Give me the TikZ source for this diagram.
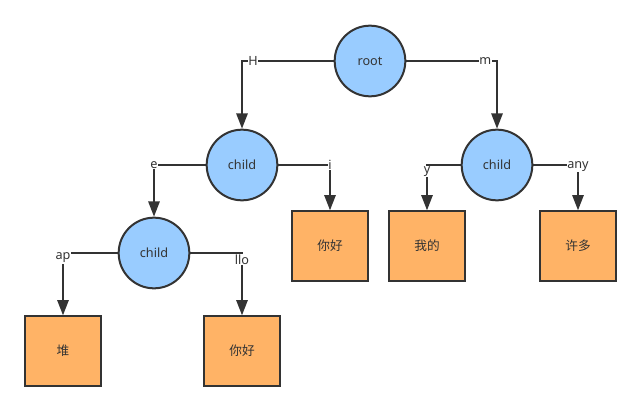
\documentclass[tikz,border=0pt]{standalone}
\usepackage{fontspec}
\setmainfont{Noto Sans}
\newfontfamily\cjk{Noto Sans CJK SC}
\usetikzlibrary{arrows.meta, positioning}
\definecolor{inner}{RGB}{153, 204, 255}
\definecolor{leaf}{RGB}{255, 179, 102}
\definecolor{ink}{RGB}{51, 51, 51}

\begin{document}
\begin{tikzpicture}[x=0.75pt, y=-0.75pt,
    trie/.style={circle, draw=ink, line width=1.5pt, fill=inner, minimum size=53pt,
                 inner sep=0pt, text=ink, font=\fontsize{9.5}{11}\selectfont},
    word/.style={rectangle, draw=ink, line width=1.5pt, fill=leaf, minimum width=57pt,
                 minimum height=52pt, inner sep=0pt, text=ink, font=\cjk\fontsize{9.5}{11}\selectfont},
    edge/.style={-{Triangle[width=8.5pt, length=11.5pt]}, draw=ink, line width=1.5pt},
    lbl/.style={fill=white, inner sep=0.5pt, text=ink, font=\fontsize{9.5}{11}\selectfont}]
    \useasboundingbox (0,0) rectangle (641,410);

    \node[trie] (root) at (370, 61) {root};
    \node[trie] (h) at (242, 165) {child};
    \node[trie] (m) at (497, 165) {child};
    \node[trie] (he) at (154, 253) {child};

    \node[word] (hi) at (330, 246) {你好};
    \node[word] (my) at (427, 246) {我的};
    \node[word] (many) at (578, 246) {许多};
    \node[word] (heap) at (63, 351) {堆};
    \node[word] (hello) at (242, 351) {你好};

    \draw[edge] (root.west) -| node[lbl, pos=0.44]{H} (h.north);
    \draw[edge] (root.east) -| node[lbl, pos=0.435]{m} (m.north);
    \draw[edge] (h.west) -| node[lbl, pos=0.5]{e} (he.north);
    \draw[edge] (h.east) -| node[lbl, pos=0.5]{i} (hi.north);
    \draw[edge] (m.west) -| node[lbl, pos=0.575]{y} (my.north);
    \draw[edge] (m.east) -| node[lbl, pos=0.52]{any} (many.north);
    \draw[edge] (he.west) -| node[lbl, pos=0.54]{ap} (heap.north);
    \draw[edge] (he.east) -| node[lbl, pos=0.555]{llo} (hello.north);
\end{tikzpicture}
\end{document}
